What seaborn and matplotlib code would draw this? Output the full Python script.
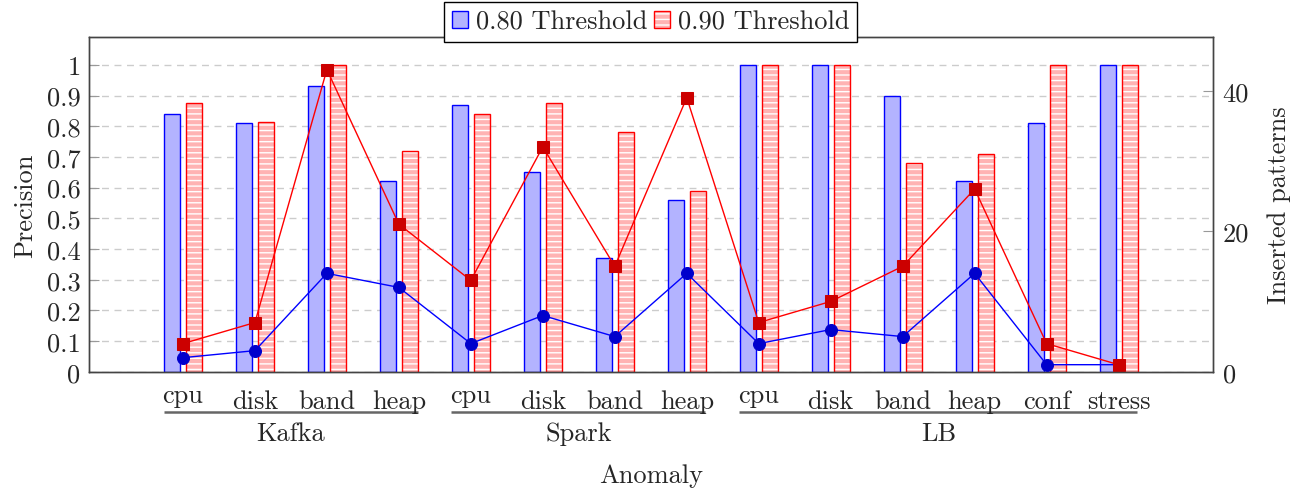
import matplotlib
matplotlib.use('Agg')
import matplotlib.pyplot as plt
import seaborn as sns
import pandas as pd
from matplotlib.patches import Patch, Rectangle
from matplotlib.transforms import ScaledTranslation

# data
anomalies = ['cpu', 'disk', 'band', 'heap',
             'cpu', 'disk', 'band', 'heap',
             'cpu', 'disk', 'band', 'heap', 'conf', 'stress']
groups = [('Kafka', 0, 3), ('Spark', 4, 7), ('LB', 8, 13)]
precision_080 = [0.84, 0.81, 0.93, 0.62,
                 0.87, 0.65, 0.37, 0.56,
                 1.00, 1.00, 0.90, 0.62, 0.81, 1.00]
precision_090 = [0.875, 0.815, 1.00, 0.72,
                 0.84, 0.875, 0.78, 0.59,
                 1.00, 1.00, 0.68, 0.71, 1.00, 1.00]
patterns_080 = [2, 3, 14, 12, 4, 8, 5, 14, 4, 6, 5, 14, 1, 1]
patterns_090 = [4, 7, 43, 21, 13, 32, 15, 39, 7, 10, 15, 26, 4, 1]
series = ['0.80 Threshold', '0.90 Threshold']

slots = list(range(len(anomalies)))
df = pd.DataFrame({
    'slot': slots * 2,
    'precision': precision_080 + precision_090,
    'threshold': [series[0]] * len(slots) + [series[1]] * len(slots),
})

sns.set_style('white')
plt.rcParams['font.family'] = ['cmr10', 'DejaVu Serif']
plt.rcParams['axes.unicode_minus'] = False
plt.rcParams['hatch.linewidth'] = 1.0
fs = 19

blue_fill, red_fill = '#B3B3FF', '#FFB3B3'

fig = plt.figure(figsize=(13.06, 4.89), dpi=100)
ax = fig.add_axes([0.0681, 0.2378, 0.8606, 0.6839])

sns.barplot(data=df, x='slot', y='precision', hue='threshold', hue_order=series,
            palette={series[0]: blue_fill, series[1]: red_fill}, saturation=1,
            width=0.61, gap=0.27, legend=False, ax=ax)

# blue bars
for p in ax.containers[0]:
    p.set_edgecolor('blue')
    p.set_linewidth(1.0)
# red bars: white hatch, then red outline on top
for p in ax.containers[1]:
    p.set_edgecolor('white')
    p.set_hatch('---')
    p.set_linewidth(0)
    ax.add_patch(Rectangle(p.get_xy(), p.get_width(), p.get_height(),
                           fill=False, edgecolor='red', linewidth=1.0, zorder=p.get_zorder() + 0.1))

ax.set_xlim(-1.306, 14.31)
ax.set_ylim(0, 1.09)
ax.set_yticks([i / 10 for i in range(11)])
ax.set_yticklabels(['0'] + [f'{i / 10:g}' for i in range(1, 10)] + ['1'], fontsize=fs)
ax.set_axisbelow(True)
ax.yaxis.grid(True, linestyle=(0, (5, 4)), color='#CCCCCC', linewidth=1)
ax.tick_params(axis='y', direction='in', length=7, color='#999999', pad=6)
ax.set_xticks(slots)
ax.set_xticklabels([])
ax.tick_params(axis='x', direction='out', length=8, color='#999999', width=1)
ax.set_ylabel('Precision', fontsize=fs, labelpad=7)
ax.set_xlabel('Anomaly', fontsize=fs)
ax.xaxis.set_label_coords(0.5, -0.275)

# tick labels, group rules and group names under the axis
xt = ax.get_xaxis_transform()
for i, lab in enumerate(anomalies):
    tr = xt
    if lab == 'cpu':
        tr = xt + ScaledTranslation(0, 4.3 / 72, fig.dpi_scale_trans)
    ax.text(i, -0.052, lab, transform=tr, ha='center', va='top', fontsize=fs)
for name, a, b in groups:
    ax.plot([a - 0.27, b + 0.26], [-0.119, -0.119], transform=xt, clip_on=False,
            color='#666666', linewidth=1.8, solid_capstyle='butt')
    ax.text((a + b) / 2, -0.185, name, transform=xt, ha='center', va='center', fontsize=fs)

# inserted patterns on the right axis
ax2 = ax.twinx()
sns.lineplot(x=slots, y=patterns_080, ax=ax2, color='blue', linewidth=1,
             marker='o', markersize=8.6, markerfacecolor='#0000CC', markeredgecolor='#0000CC')
sns.lineplot(x=slots, y=patterns_090, ax=ax2, color='red', linewidth=1,
             marker='s', markersize=8.3, markerfacecolor='#CC0000', markeredgecolor='#CC0000')
ax2.set_ylim(0, 47.6)
ax2.set_yticks([0, 20, 40])
ax2.set_yticklabels(['0', '20', '40'], fontsize=fs)
ax2.tick_params(axis='y', direction='in', length=7.5, color='#999999', pad=7)
ax2.set_ylabel('Inserted patterns', fontsize=fs, labelpad=13)

for a in (ax, ax2):
    for s in a.spines.values():
        s.set_color('#444444')
        s.set_linewidth(1.0)

h_blue = Patch(facecolor=blue_fill, edgecolor='blue', linewidth=1)
h_red = (Patch(facecolor=red_fill, edgecolor='white', hatch='---', linewidth=0),
         Patch(fill=False, edgecolor='red', linewidth=1))
leg = ax2.legend([h_blue, h_red], series, loc='center', bbox_to_anchor=(0.5, 1.046),
                 ncol=2, fontsize=fs, frameon=True, fancybox=False, framealpha=1,
                 edgecolor='black', handlelength=0.6, handleheight=0.6,
                 handletextpad=0.3, columnspacing=0.25, borderpad=0.3, borderaxespad=0)
leg.get_frame().set_linewidth(1.0)

fig.savefig('out.png', dpi=100)
